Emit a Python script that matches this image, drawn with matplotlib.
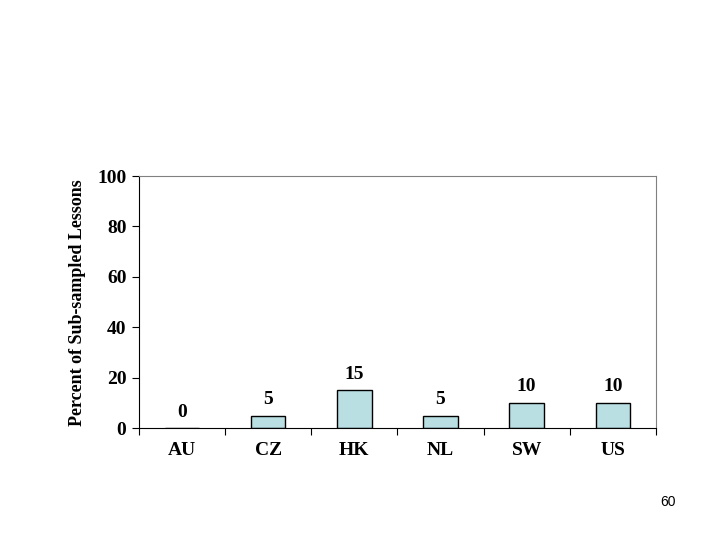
import numpy as np
import matplotlib.pyplot as plt

countries = ['AU', 'CZ', 'HK', 'NL', 'SW', 'US']
percent = [0, 5, 15, 5, 10, 10]
y_ticks = [0, 20, 40, 60, 80, 100]

plt.rcParams['font.family'] = 'Liberation Serif'
plt.rcParams['font.weight'] = 'bold'

fig = plt.figure(figsize=(7.2, 5.4), dpi=100)
ax = fig.add_axes([0.193, 0.207, 0.718, 0.467])

x = np.arange(len(countries))
ax.bar(x, percent, width=0.4, color='#b9dfe3', edgecolor='black', linewidth=1)

for xi, v in zip(x, percent):
    ax.text(xi, v + 3, str(v), ha='center', va='bottom', fontsize=14, fontweight='bold')

ax.set_xlim(-0.5, len(countries) - 0.5)
ax.set_ylim(0, 100)
ax.set_yticks(y_ticks)
ax.set_yticklabels([str(t) for t in y_ticks], fontsize=14, fontweight='bold')

# category labels centred, ticks at the boundaries
ax.set_xticks(np.arange(len(countries) + 1) - 0.5)
ax.set_xticklabels([])
ax.set_xticks(x, minor=True)
ax.set_xticklabels(countries, minor=True, fontsize=14, fontweight='bold')
ax.tick_params(axis='x', which='minor', length=0, pad=10)
ax.tick_params(axis='x', which='major', length=5, direction='out', color='black')
ax.tick_params(axis='y', length=5, direction='out', pad=4)

ax.set_ylabel('Percent of Sub-sampled Lessons', fontsize=13, fontweight='bold', labelpad=8)

for s in ['top', 'right']:
    ax.spines[s].set_color('#808080')
for s in ['left', 'bottom']:
    ax.spines[s].set_color('black')

fig.text(0.928, 0.063, '60', fontsize=10, family='Liberation Sans', fontweight='normal', ha='center')

fig.savefig('out.png', dpi=100)
